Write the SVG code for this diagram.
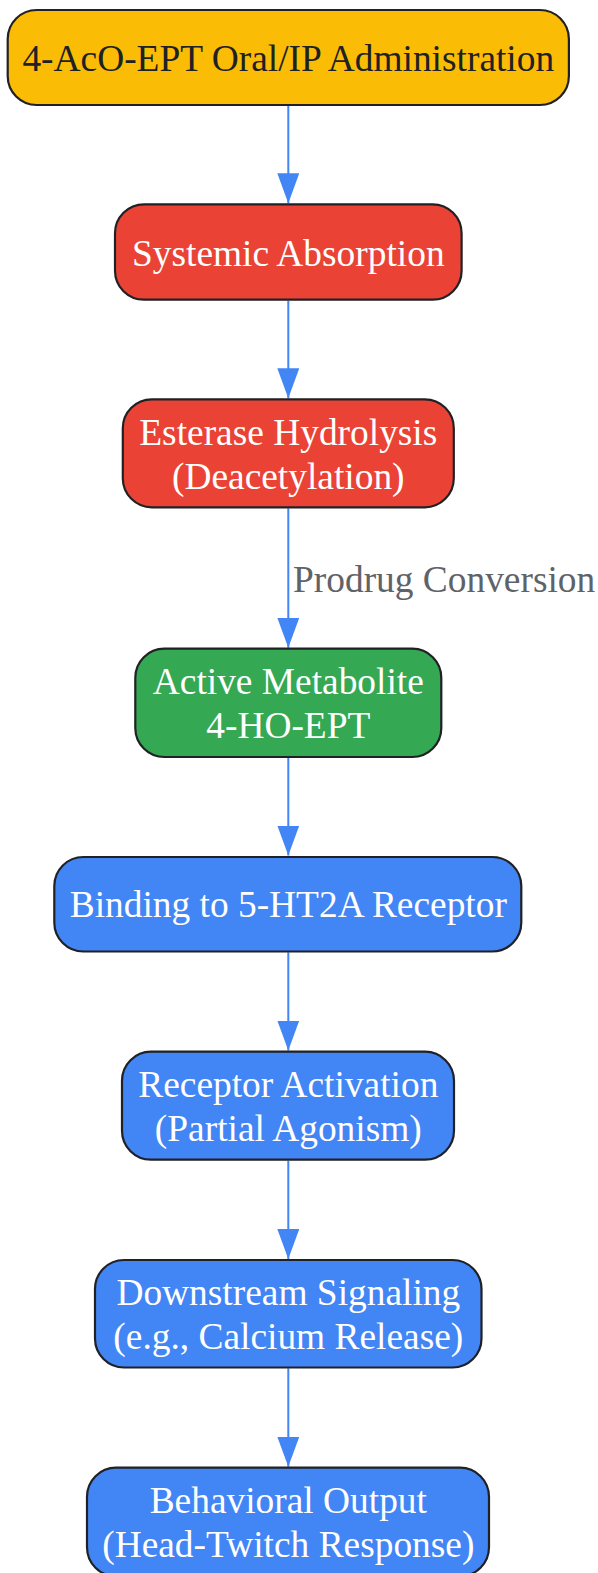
<svg xmlns="http://www.w3.org/2000/svg" width="598" height="1573" viewBox="0 0 598 1573">
<style>
.n rect{stroke:#202124;stroke-width:2.2}
.t{font-family:"Liberation Serif","Times New Roman",serif;font-size:37.4px;text-anchor:middle;fill:#ffffff}
.dark{fill:#202124}
.yel{fill:#FBBC05}.red{fill:#EA4335}.grn{fill:#34A853}.blu{fill:#4285F4}
.c line{stroke:#4285F4;stroke-width:2}
.lbl{font-family:"Liberation Serif","Times New Roman",serif;font-size:37.4px;fill:#5f6368}
</style>
<defs>
<marker id="ah" markerWidth="30" markerHeight="22" refX="30" refY="11" orient="auto" markerUnits="userSpaceOnUse">
<path d="M0,0 L30,11 L0,22 Z" fill="#4285F4"/>
</marker>
</defs>
<rect width="598" height="1573" fill="#ffffff"/>
<g id="connectors" class="c">
<line x1="288.3" y1="106" x2="288.3" y2="203.3" marker-end="url(#ah)"/>
<line x1="288.3" y1="300.7" x2="288.3" y2="398.3" marker-end="url(#ah)"/>
<line x1="288.3" y1="508.3" x2="288.3" y2="647.7" marker-end="url(#ah)"/>
<line x1="288.3" y1="757.8" x2="288.3" y2="855.5" marker-end="url(#ah)"/>
<line x1="288.3" y1="952.3" x2="288.3" y2="1050.5" marker-end="url(#ah)"/>
<line x1="288.3" y1="1160.7" x2="288.3" y2="1259" marker-end="url(#ah)"/>
<line x1="288.3" y1="1368.3" x2="288.3" y2="1466.7" marker-end="url(#ah)"/>
<text class="lbl" x="293" y="591.7">Prodrug Conversion</text>
</g>
<g id="n1" class="n">
<rect class="yel" x="7.7" y="10" width="561.2" height="95" rx="29"/>
<text class="t dark" x="288.3" y="70.5">4-AcO-EPT Oral/IP Administration</text>
</g>
<g id="n2" class="n">
<rect class="red" x="115" y="204.3" width="346.6" height="95.4" rx="29"/>
<text class="t" x="288.3" y="265.5">Systemic Absorption</text>
</g>
<g id="n3" class="n">
<rect class="red" x="122.8" y="399.3" width="331" height="108" rx="29"/>
<text class="t" x="288.3" y="444.5">Esterase Hydrolysis</text>
<text class="t" x="288.3" y="488.5">(Deacetylation)</text>
</g>
<g id="n4" class="n">
<rect class="grn" x="135.3" y="648.7" width="306" height="108.3" rx="29"/>
<text class="t" x="288.3" y="694">Active Metabolite</text>
<text class="t" x="288.3" y="738">4-HO-EPT</text>
</g>
<g id="n5" class="n">
<rect class="blu" x="54.3" y="857" width="467" height="94.5" rx="29"/>
<text class="t" x="288.3" y="917">Binding to 5-HT2A Receptor</text>
</g>
<g id="n6" class="n">
<rect class="blu" x="122" y="1051.7" width="332" height="108" rx="29"/>
<text class="t" x="288.3" y="1096.7">Receptor Activation</text>
<text class="t" x="288.3" y="1140.5">(Partial Agonism)</text>
</g>
<g id="n7" class="n">
<rect class="blu" x="95" y="1260" width="386.5" height="107.5" rx="29"/>
<text class="t" x="288.3" y="1304.5">Downstream Signaling</text>
<text class="t" x="288.3" y="1348.5">(e.g., Calcium Release)</text>
</g>
<g id="n8" class="n">
<rect class="blu" x="87" y="1467.7" width="402" height="108.5" rx="29"/>
<text class="t" x="288.3" y="1513">Behavioral Output</text>
<text class="t" x="288.3" y="1556.5">(Head-Twitch Response)</text>
</g>
</svg>
